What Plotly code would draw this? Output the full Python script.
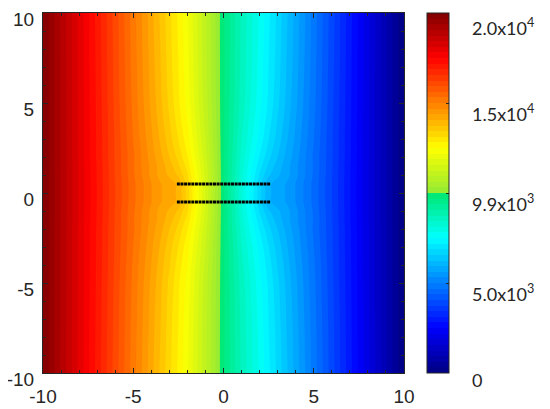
import plotly.graph_objects as go

# Grid coordinates (data units)
x_grid = [-10, -8, -6, -5, -4, -3.5, -3, -2.5, -2, -1, 0, 1, 2, 2.5, 3, 3.5, 4, 5, 6, 8, 10]
y_grid = [-10, -5, -3, -2, -1.5, -1, -0.5, 0, 0.5, 1, 1.5, 2, 3, 5, 10]

# Field values, one row per |y| level
row_y10 = [19800, 17860, 15940, 14990, 14040, 13560, 13090, 12610, 12120, 10900, 9650, 8600, 7680, 7190, 6710, 6240, 5760, 4810, 3860, 1940, 0]
row_y5 = [19800, 17880, 16000, 15070, 14160, 13700, 13230, 12750, 12260, 10980, 9650, 8520, 7540, 7050, 6570, 6100, 5640, 4730, 3800, 1920, 0]
row_y3 = [19800, 17880, 16040, 15150, 14300, 13880, 13440, 12990, 12490, 11140, 9650, 8360, 7310, 6810, 6360, 5920, 5500, 4650, 3760, 1920, 0]
row_y2 = [19800, 17880, 16040, 15210, 14390, 14020, 13620, 13210, 12710, 11250, 9650, 8250, 7090, 6590, 6180, 5780, 5410, 4590, 3760, 1920, 0]
row_y15 = [19800, 17900, 16060, 15190, 14450, 14100, 13760, 13370, 12870, 11330, 9650, 8170, 6930, 6430, 6040, 5700, 5350, 4610, 3740, 1900, 0]
row_y1 = [19800, 17900, 16060, 15210, 14450, 14120, 13860, 13560, 13030, 11370, 9650, 8130, 6770, 6240, 5940, 5680, 5350, 4590, 3740, 1900, 0]
row_y0 = [19800, 17900, 16080, 15250, 14550, 14260, 14060, 13860, 13170, 11430, 9650, 8070, 6630, 5940, 5740, 5540, 5250, 4550, 3720, 1900, 0]

z_rows = [row_y10, row_y5, row_y3, row_y2, row_y15, row_y1, row_y0,
          row_y0, row_y0, row_y1, row_y15, row_y2, row_y3, row_y5, row_y10]

# Electrode dot positions
electrode_x = [-2.5, -2.3, -2.1, -1.9, -1.7, -1.5, -1.3, -1.1, -0.9, -0.7, -0.5, -0.3, -0.1,
               0.1, 0.3, 0.5, 0.7, 0.9, 1.1, 1.3, 1.5, 1.7, 1.9, 2.1, 2.3, 2.5]
electrode_rows_y = [0.5, -0.5]

# Colour bar ticks
cbar_vals = [0, 4950, 9900, 14850, 19800]
cbar_text = ["0", "5.0x10<sup>3</sup>", "9.9x10<sup>3</sup>", "1.5x10<sup>4</sup>", "2.0x10<sup>4</sup>"]
cbar_label_y = [-0.019, 0.222, 0.472, 0.722, 0.961]

axis_ticks = [-10, -5, 0, 5, 10]
axis_tick_text = ["-10", "-5", "0", "5", "10"]

jet = [
    [0.0, "rgb(0,0,128)"],
    [0.125, "rgb(0,0,255)"],
    [0.375, "rgb(0,255,255)"],
    [0.497, "rgb(0,232,115)"],
    [0.503, "rgb(150,235,50)"],
    [0.625, "rgb(255,255,0)"],
    [0.875, "rgb(255,0,0)"],
    [1.0, "rgb(128,0,0)"],
]

fig = go.Figure()
fig.add_trace(go.Contour(
    x=x_grid, y=y_grid, z=z_rows,
    colorscale=jet, zmin=0, zmax=19800,
    autocontour=False,
    contours=dict(start=0, end=19800, size=19800 / 64, coloring="fill", showlines=False),
    line=dict(width=0, smoothing=1.0),
    colorbar=dict(
        x=1.0637, xanchor="left", y=0.5, yanchor="middle", len=1.0, lenmode="fraction",
        thickness=22, outlinewidth=1, outlinecolor="#262626",
        tickvals=cbar_vals[1:4], ticks="inside", ticklen=3, tickcolor="#262626",
        showticklabels=False, xpad=0, ypad=0,
    ),
    hoverinfo="skip",
))

for yy in electrode_rows_y:
    fig.add_trace(go.Scatter(
        x=electrode_x, y=[yy] * len(electrode_x), mode="markers",
        marker=dict(symbol="square", size=3, color="black"),
        hoverinfo="skip", showlegend=False,
    ))

axis_font = dict(family="Liberation Sans, Arial, sans-serif", size=19, color="#262626")
common = dict(
    range=[-10, 10], tickvals=axis_ticks, ticktext=axis_tick_text,
    ticks="inside", ticklen=5, tickcolor="#262626",
    mirror="allticks", showline=True, linecolor="#262626", linewidth=1,
    showgrid=False, zeroline=False, tickfont=axis_font, automargin=False,
    minor=dict(dtick=1, ticks="inside", ticklen=3, tickcolor="#262626", showgrid=False),
)
fig.update_xaxes(**common, ticklabelstandoff=6)
fig.update_yaxes(**common, ticklabelstandoff=4, ticklabelshift=6)

for v, t, yy in zip(cbar_vals, cbar_text, cbar_label_y):
    fig.add_annotation(
        x=1.1828, y=yy, xref="paper", yref="paper", text=t, showarrow=False,
        xanchor="left", yanchor="middle",
        font=dict(family="Lato, Open Sans, sans-serif", size=18, color="#262626"),
    )

# page body has an 8 px margin, so the figure is 8 px smaller and offset
fig.update_layout(
    width=542, height=401,
    margin=dict(l=35, r=146, t=5, b=36, autoexpand=False),
    paper_bgcolor="white", plot_bgcolor="white",
    showlegend=False,
)

fig.write_html("out.html")
